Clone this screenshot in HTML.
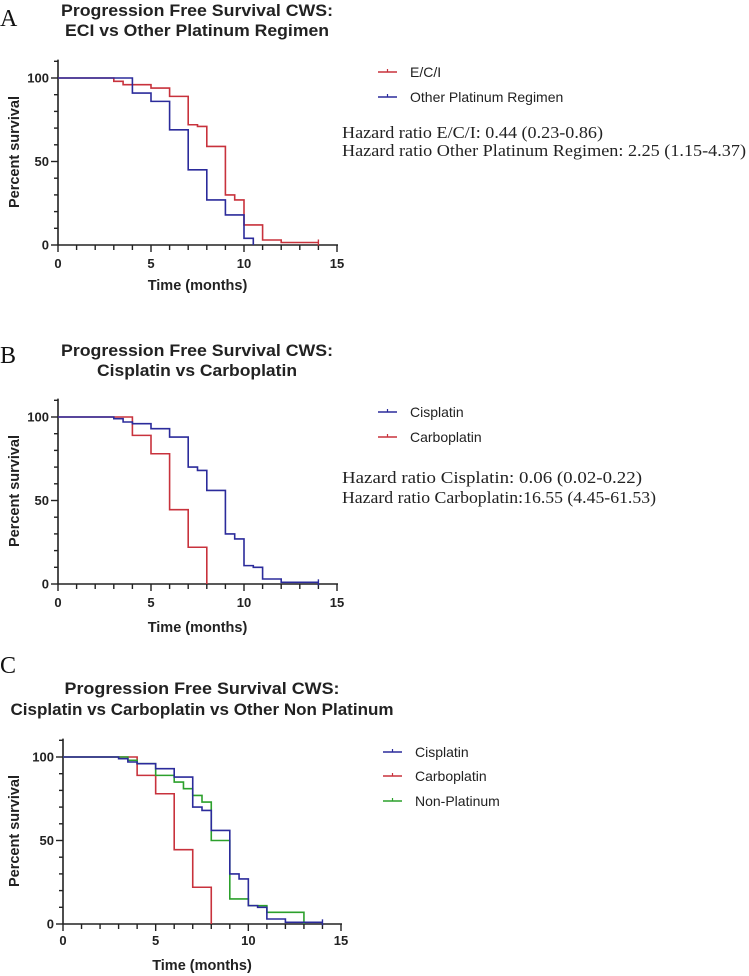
<!DOCTYPE html>
<html><head><meta charset="utf-8"><style>
html,body{margin:0;padding:0;background:#fff;}
svg{display:block;}
.ttl{font-family:"Liberation Sans",sans-serif;font-weight:bold;font-size:17px;fill:#222;}
.tk{font-family:"Liberation Sans",sans-serif;font-weight:bold;font-size:13px;fill:#222;}
.lab{font-family:"Liberation Sans",sans-serif;font-weight:bold;font-size:14.5px;fill:#222;}
.leg{font-family:"Liberation Sans",sans-serif;font-size:14px;fill:#222;}
.hr{font-family:"Liberation Serif",serif;font-size:17px;fill:#222;}
.pl{font-family:"Liberation Serif",serif;font-size:24px;fill:#111;}
</style></head><body>
<svg id="fig" width="749" height="976" viewBox="0 0 749 976" xmlns="http://www.w3.org/2000/svg">
<text class="pl" x="0" y="26">A</text>
<text class="ttl" x="197" y="16" text-anchor="middle" textLength="272" lengthAdjust="spacingAndGlyphs">Progression Free Survival CWS:</text>
<text class="ttl" x="197" y="36" text-anchor="middle" textLength="264" lengthAdjust="spacingAndGlyphs">ECI vs Other Platinum Regimen</text>
<text class="pl" x="0" y="363">B</text>
<text class="ttl" x="197" y="356" text-anchor="middle" textLength="272" lengthAdjust="spacingAndGlyphs">Progression Free Survival CWS:</text>
<text class="ttl" x="197" y="376" text-anchor="middle" textLength="200" lengthAdjust="spacingAndGlyphs">Cisplatin vs Carboplatin</text>
<text class="pl" x="0" y="673">C</text>
<text class="ttl" x="202" y="694" text-anchor="middle" textLength="275" lengthAdjust="spacingAndGlyphs">Progression Free Survival CWS:</text>
<text class="ttl" x="202" y="715" text-anchor="middle" textLength="383" lengthAdjust="spacingAndGlyphs">Cisplatin vs Carboplatin vs Other Non Platinum</text>

<text class="hr" x="342" y="138" textLength="261" lengthAdjust="spacingAndGlyphs">Hazard ratio E/C/I: 0.44 (0.23-0.86)</text>
<text class="hr" x="342" y="156" textLength="404" lengthAdjust="spacingAndGlyphs">Hazard ratio Other Platinum Regimen: 2.25 (1.15-4.37)</text>
<text class="hr" x="342" y="483" textLength="300" lengthAdjust="spacingAndGlyphs">Hazard ratio Cisplatin: 0.06 (0.02-0.22)</text>
<text class="hr" x="342" y="503" textLength="314" lengthAdjust="spacingAndGlyphs">Hazard ratio Carboplatin:16.55 (4.45-61.53)</text>
</svg>
<script>
// Panel A data
const aRedTimes = [3,3.5,5,6,7,7.5,8,9,9.5,10,11,12];
const aRedVals = [98,96,94,89,72,71,59,30,27,12,3,1.5];
const aBlueTimes = [4,5,6,7,8,9,10,10.5];
const aBlueVals = [91,86,69,45,27,18,4,0];
// Panel B / C data
const cisTimes = [3,3.5,4,5,6,7,7.5,8,9,9.5,10,10.5,11,12];
const cisVals = [99,97,96,93,88,70,68,56,30,27,11,10,3,1];
const carboTimes = [4,5,6,7,8];
const carboVals = [89,78,44.5,22,0];
const nonPlatTimes = [3.5,4,5,6,6.5,7,7.5,8,9,10,11,13];
const nonPlatVals = [98,96,89,85,81,77,73,50,15,11,7,0];
const xTickLabels = [0,5,10,15];
const yTickLabels = [0,50,100];

const NS='http://www.w3.org/2000/svg';
const svg=document.getElementById('fig');
function mk(tag,attrs){const e=document.createElementNS(NS,tag);for(const k in attrs)e.setAttribute(k,attrs[k]);svg.appendChild(e);return e;}
const RED='#c8323c',BLUE='#2b2b9b',GREEN='#2ca02c';

const panels=[
 {id:'a',x0:58,x15:337,y0:245,y100:78,tickY:268,labY:290,yLabY:152,
  series:[{n:'eci',t:aRedTimes,v:aRedVals,end:14,c:RED},{n:'other-platinum',t:aBlueTimes,v:aBlueVals,end:10.5,c:BLUE}],
  legend:[{x:378,y:72,c:RED,s:'E/C/I'},{x:378,y:97,c:BLUE,s:'Other Platinum Regimen'}]},
 {id:'b',x0:58,x15:337,y0:584,y100:417,tickY:607,labY:632,yLabY:491,
  series:[{n:'carboplatin',t:carboTimes,v:carboVals,end:8,c:RED},{n:'cisplatin',t:cisTimes,v:cisVals,end:14,c:BLUE}],
  legend:[{x:378,y:412,c:BLUE,s:'Cisplatin'},{x:378,y:437,c:RED,s:'Carboplatin'}]},
 {id:'c',x0:63,x15:341,y0:924,y100:757,tickY:945,labY:970,yLabY:831,
  series:[{n:'carboplatin',t:carboTimes,v:carboVals,end:8,c:RED},{n:'non-platinum',t:nonPlatTimes,v:nonPlatVals,end:13,c:GREEN},{n:'cisplatin',t:cisTimes,v:cisVals,end:14,c:BLUE}],
  legend:[{x:383,y:752,c:BLUE,s:'Cisplatin'},{x:383,y:776,c:RED,s:'Carboplatin'},{x:383,y:801,c:GREEN,s:'Non-Platinum'}]}
];

panels.forEach(p=>{
  const X=t=>p.x0+(p.x15-p.x0)*t/15;
  const Y=v=>p.y0+(p.y100-p.y0)*v/100;
  let e=mk('line',{x1:p.x0,y1:Y(111),x2:p.x0,y2:p.y0,stroke:'#222','stroke-width':1.6});
  
  
  for(let v=0;v<=110;v+=10){
    const maj=v%50===0;
    e=mk('line',{x1:p.x0-(maj?7:4),y1:Y(v),x2:p.x0,y2:Y(v),stroke:'#222','stroke-width':1.4});
    
    
  }
  yTickLabels.forEach(v=>{
    e=mk('text',{x:p.x0-9,y:Y(v)+4.5,'text-anchor':'end',class:'tk'});e.textContent=v;
    
    
  });
  e=mk('line',{x1:p.x0,y1:p.y0,x2:p.x15+1,y2:p.y0,stroke:'#222','stroke-width':1.6});
  
  
  for(let t=0;t<=15;t++){
    const maj=t%5===0;
    e=mk('line',{x1:X(t),y1:p.y0,x2:X(t),y2:p.y0+(maj?7:5),stroke:'#222','stroke-width':1.4});
    
    
  }
  xTickLabels.forEach(t=>{
    e=mk('text',{x:X(t),y:p.tickY,'text-anchor':'middle',class:'tk'});e.textContent=t;
    
    
  });
  e=mk('text',{x:(p.x0+p.x15)/2,y:p.labY,'text-anchor':'middle',class:'lab'});e.textContent='Time (months)';
  
  
  e=mk('text',{x:0,y:0,'text-anchor':'middle',class:'lab',transform:`translate(19,${p.yLabY}) rotate(-90)`});e.textContent='Percent survival';
  
  
  p.series.forEach(s=>{
    let d=`M${X(0)},${Y(100)}`;
    for(let i=0;i<s.t.length;i++){d+=` H${X(s.t[i])} V${Y(s.v[i])}`;}
    d+=` H${X(s.end)}`;
    e=mk('path',{d:d,fill:'none',stroke:s.c,'stroke-width':1.6});
    
    
    const lv=s.v[s.v.length-1];
    if(lv>0){
      e=mk('line',{x1:X(s.end),y1:Y(lv)-3,x2:X(s.end),y2:Y(lv)+3,stroke:s.c,'stroke-width':1.4});
      
      
    }
  });
  p.legend.forEach(l=>{
    e=mk('line',{x1:l.x,y1:l.y,x2:l.x+19,y2:l.y,stroke:l.c,'stroke-width':1.5});
    
    
    e=mk('line',{x1:l.x+9.5,y1:l.y-3,x2:l.x+9.5,y2:l.y,stroke:l.c,'stroke-width':1.2});
    
    
    e=mk('text',{x:l.x+32,y:l.y+5,class:'leg'});e.textContent=l.s;
    
    
  });
});
</script>
</body></html>
